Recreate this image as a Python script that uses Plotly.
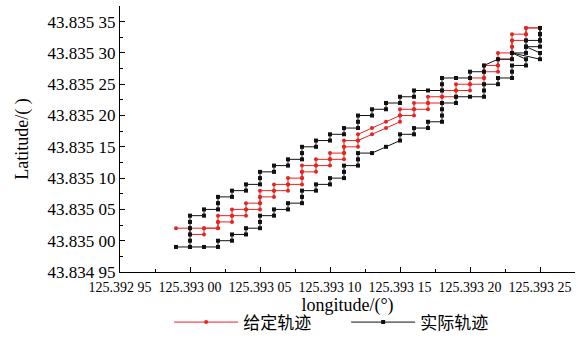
import plotly.graph_objects as go

# Given trajectory (outbound then return), longitude / latitude in degrees
given_lon = [
    125.39299, 125.39300, 125.39300, 125.39301, 125.39301, 125.39302, 125.39302, 125.39303, 125.39303, 125.39304,
    125.39304, 125.39305, 125.39305, 125.39305, 125.39306, 125.39306, 125.39307, 125.39307, 125.39308, 125.39308,
    125.39308, 125.39309, 125.39309, 125.39310, 125.39310, 125.39311, 125.39311, 125.39311, 125.39312, 125.39312,
    125.39313, 125.39314, 125.39315, 125.39315, 125.39316, 125.39316, 125.39317, 125.39317, 125.39318, 125.39318,
    125.39319, 125.39319, 125.39320, 125.39320, 125.39321, 125.39321, 125.39321, 125.39322, 125.39322, 125.39322,
    125.39323, 125.39323, 125.39323, 125.39323, 125.39324, 125.39324, 125.39324, 125.39325,
    125.39324, 125.39324, 125.39323, 125.39323, 125.39323, 125.39323, 125.39322, 125.39322, 125.39322, 125.39321,
    125.39321, 125.39321, 125.39320, 125.39320, 125.39319, 125.39319, 125.39318, 125.39318, 125.39317, 125.39317,
    125.39316, 125.39316, 125.39315, 125.39315, 125.39314, 125.39313, 125.39312, 125.39312, 125.39311, 125.39311,
    125.39311, 125.39310, 125.39310, 125.39309, 125.39309, 125.39308, 125.39308, 125.39308, 125.39307, 125.39307,
    125.39306, 125.39306, 125.39305, 125.39305, 125.39305, 125.39304, 125.39304, 125.39303, 125.39303, 125.39302,
    125.39302, 125.39302, 125.39301, 125.39300,
]
given_lat = [
    43.83502, 43.83502, 43.83501, 43.83501, 43.83502, 43.83502, 43.83503, 43.83503, 43.83504, 43.83504,
    43.83505, 43.83505, 43.83506, 43.83507, 43.83507, 43.83508, 43.83508, 43.83509, 43.83509, 43.83510,
    43.83511, 43.83511, 43.83512, 43.83512, 43.83513, 43.83513, 43.83514, 43.83515, 43.83515, 43.83516,
    43.83517, 43.83518, 43.83519, 43.83520, 43.83520, 43.83521, 43.83521, 43.83522, 43.83522, 43.83523,
    43.83523, 43.83524, 43.83524, 43.83525, 43.83525, 43.83526, 43.83527, 43.83527, 43.83528, 43.83529,
    43.83529, 43.83530, 43.83531, 43.83532, 43.83532, 43.83533, 43.83534, 43.83534,
    43.83534, 43.83533, 43.83533, 43.83532, 43.83531, 43.83530, 43.83530, 43.83529, 43.83528, 43.83528,
    43.83527, 43.83526, 43.83526, 43.83525, 43.83525, 43.83524, 43.83524, 43.83523, 43.83523, 43.83522,
    43.83522, 43.83521, 43.83521, 43.83520, 43.83519, 43.83518, 43.83517, 43.83516, 43.83516, 43.83515,
    43.83514, 43.83514, 43.83513, 43.83513, 43.83512, 43.83512, 43.83511, 43.83510, 43.83510, 43.83509,
    43.83509, 43.83508, 43.83508, 43.83507, 43.83506, 43.83506, 43.83505, 43.83505, 43.83504, 43.83504,
    43.83503, 43.83502, 43.83502, 43.83502,
]

# Actual trajectory (upper edge outbound, lower edge back)
actual_lon = [
    125.39299, 125.39300, 125.39300, 125.39300, 125.39300, 125.39300, 125.39300, 125.39301, 125.39301, 125.39302,
    125.39302, 125.39302, 125.39303, 125.39303, 125.39304, 125.39304, 125.39305, 125.39305, 125.39305, 125.39306,
    125.39306, 125.39307, 125.39307, 125.39308, 125.39308, 125.39308, 125.39309, 125.39309, 125.39310, 125.39310,
    125.39311, 125.39311, 125.39312, 125.39312, 125.39312, 125.39313, 125.39313, 125.39314, 125.39314, 125.39315,
    125.39315, 125.39316, 125.39316, 125.39317, 125.39318, 125.39318, 125.39318, 125.39319, 125.39320, 125.39320,
    125.39321, 125.39321, 125.39322, 125.39323, 125.39323, 125.39324, 125.39324, 125.39324, 125.39325, 125.39325,
    125.39325,
    125.39325, 125.39325, 125.39325, 125.39324, 125.39325, 125.39325, 125.39323, 125.39324, 125.39324, 125.39323,
    125.39323, 125.39323, 125.39322, 125.39322, 125.39321, 125.39321, 125.39321, 125.39320, 125.39319, 125.39319,
    125.39318, 125.39318, 125.39318, 125.39318, 125.39317, 125.39317, 125.39316, 125.39316, 125.39315, 125.39315,
    125.39314, 125.39313, 125.39312, 125.39312, 125.39312, 125.39311, 125.39311, 125.39311, 125.39310, 125.39310,
    125.39309, 125.39309, 125.39308, 125.39308, 125.39308, 125.39307, 125.39307, 125.39306, 125.39306, 125.39305,
    125.39305, 125.39305, 125.39304, 125.39304, 125.39303, 125.39303, 125.39302, 125.39302, 125.39301, 125.39300,
]
actual_lat = [
    43.83499, 43.83499, 43.83500, 43.83501, 43.83502, 43.83503, 43.83504, 43.83504, 43.83505, 43.83505,
    43.83506, 43.83507, 43.83507, 43.83508, 43.83508, 43.83509, 43.83509, 43.83510, 43.83511, 43.83511,
    43.83512, 43.83512, 43.83513, 43.83513, 43.83514, 43.83515, 43.83515, 43.83516, 43.83516, 43.83517,
    43.83517, 43.83518, 43.83518, 43.83519, 43.83520, 43.83520, 43.83521, 43.83521, 43.83522, 43.83522,
    43.83523, 43.83523, 43.83524, 43.83524, 43.83524, 43.83525, 43.83526, 43.83526, 43.83526, 43.83527,
    43.83527, 43.83528, 43.83529, 43.83529, 43.83530, 43.83530, 43.83531, 43.83532, 43.83532, 43.83533,
    43.83534,
    43.83533, 43.83532, 43.83531, 43.83531, 43.83530, 43.83529, 43.83530, 43.83529, 43.83528, 43.83528,
    43.83527, 43.83526, 43.83526, 43.83525, 43.83525, 43.83524, 43.83523, 43.83523, 43.83523, 43.83522,
    43.83522, 43.83521, 43.83520, 43.83519, 43.83519, 43.83518, 43.83518, 43.83517, 43.83517, 43.83516,
    43.83515, 43.83514, 43.83514, 43.83513, 43.83512, 43.83512, 43.83511, 43.83510, 43.83510, 43.83509,
    43.83509, 43.83508, 43.83508, 43.83507, 43.83506, 43.83506, 43.83505, 43.83505, 43.83504, 43.83504,
    43.83503, 43.83502, 43.83502, 43.83501, 43.83501, 43.83500, 43.83500, 43.83499, 43.83499, 43.83499,
]

# Axis ticks
x_tickvals = [125.39295, 125.39300, 125.39305, 125.39310, 125.39315, 125.39320, 125.39325]
x_ticktext = ["125.392 95", "125.393 00", "125.393 05", "125.393 10",
              "125.393 15", "125.393 20", "125.393 25"]
y_tickvals = [43.83495, 43.83500, 43.83505, 43.83510, 43.83515,
              43.83520, 43.83525, 43.83530, 43.83535]
y_ticktext = ["43.834 95", "43.835 00", "43.835 05", "43.835 10", "43.835 15",
              "43.835 20", "43.835 25", "43.835 30", "43.835 35"]

RED = "#e8231f"
BLACK = "#111111"
SERIF = "Liberation Serif, Times New Roman, serif"

fig = go.Figure()
fig.add_trace(go.Scatter(
    x=given_lon, y=given_lat, mode="lines+markers", name="给定轨迹",
    line=dict(color=RED, width=1),
    marker=dict(color=RED, size=4, symbol="circle"),
))
fig.add_trace(go.Scatter(
    x=actual_lon, y=actual_lat, mode="lines+markers", name="实际轨迹",
    line=dict(color=BLACK, width=1),
    marker=dict(color=BLACK, size=4, symbol="square"),
))

axis_common = dict(
    showline=True, linecolor="black", linewidth=1,
    showgrid=False, zeroline=False, mirror=False,
    ticks="inside", ticklen=5, tickcolor="black", tickwidth=1,
    tickmode="array",
)

fig.update_layout(
    width=578, height=345,
    margin=dict(l=120, r=3, t=6, b=73, autoexpand=False),
    paper_bgcolor="white", plot_bgcolor="white",
    font=dict(family=SERIF, color="black"),
    xaxis=dict(
        axis_common,
        range=[125.39295, 125.393275],
        tickvals=x_tickvals, ticktext=x_ticktext,
        tickfont=dict(size=14, family=SERIF),
        ticklabelstandoff=2,
        minor=dict(ticks="inside", ticklen=3, tickcolor="black",
                   tick0=125.39295, dtick=0.000025),
        title=dict(text="longitude/(°)", font=dict(size=18, family=SERIF), standoff=1),
    ),
    yaxis=dict(
        axis_common,
        range=[43.83495, 43.835375],
        tickvals=y_tickvals, ticktext=y_ticktext,
        tickfont=dict(size=17, family=SERIF),
        minor=dict(ticks="inside", ticklen=3, tickcolor="black",
                   tick0=43.83495, dtick=0.000025),
        title=dict(text="Latitude/( )", font=dict(size=18, family=SERIF), standoff=14),
    ),
    legend=dict(
        orientation="h", x=0.108, y=-0.19, xanchor="left", yanchor="middle",
        font=dict(size=17, family="Noto Sans CJK SC"),
        itemwidth=64, entrywidth=98, entrywidthmode="pixels",
        bgcolor="rgba(0,0,0,0)",
    ),
    showlegend=True,
)

fig.write_html("out.html")
